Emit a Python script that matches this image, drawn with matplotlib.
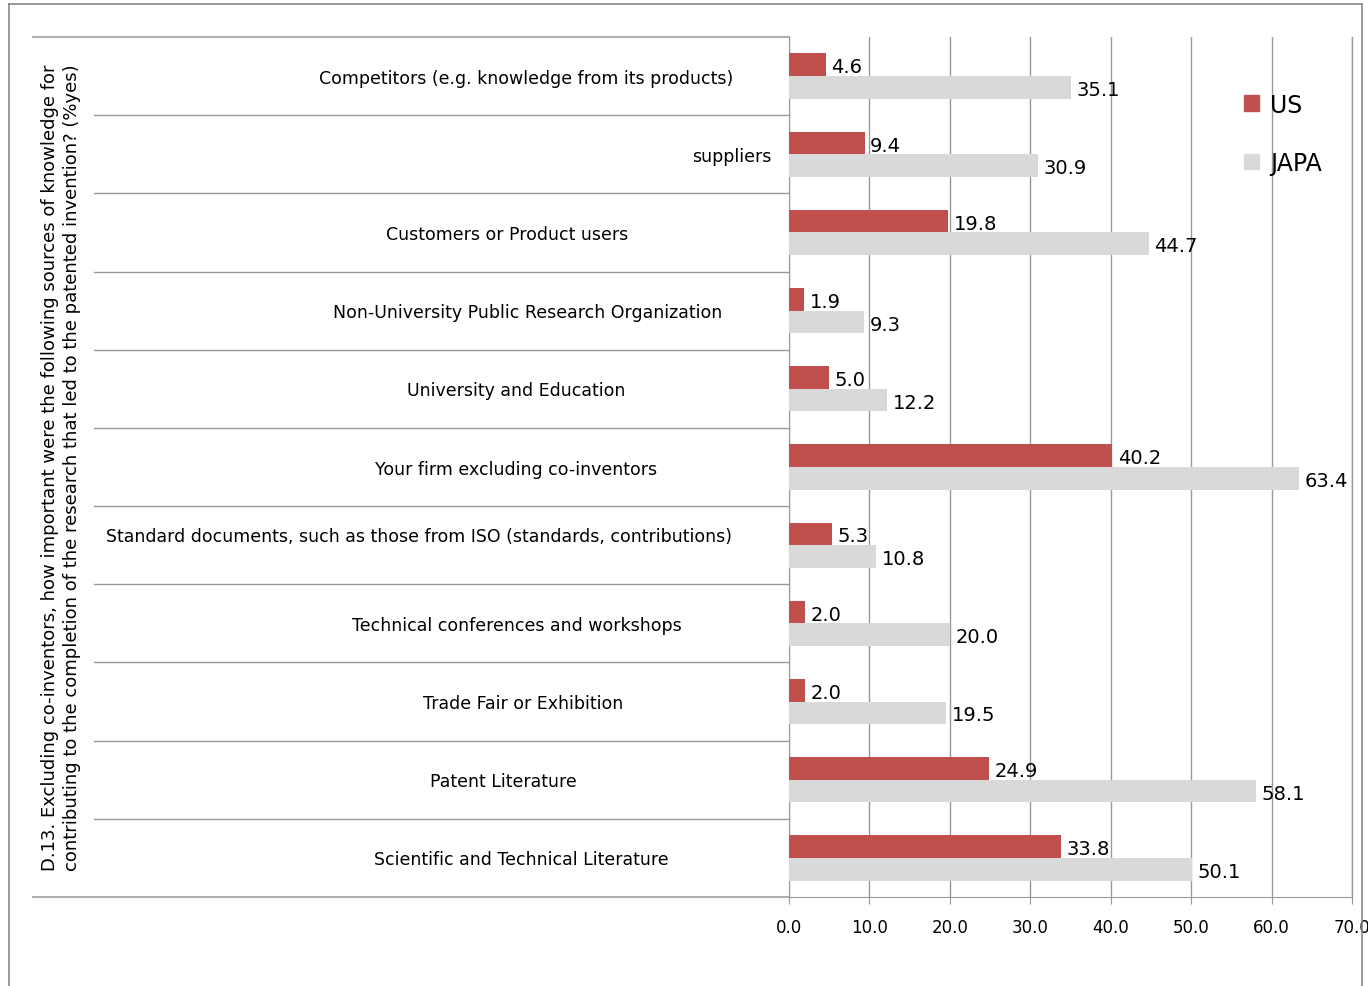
import numpy as np
import matplotlib
matplotlib.use("Agg")
import matplotlib.pyplot as plt
from matplotlib.lines import Line2D
from matplotlib.patches import Patch

# data
categories = ["Competitors (e.g. knowledge from its products)",
              "suppliers",
              "Customers or Product users",
              "Non-University Public Research Organization",
              "University and Education",
              "Your firm excluding co-inventors",
              "Standard documents, such as those from ISO (standards, contributions)",
              "Technical conferences and workshops",
              "Trade Fair or Exhibition",
              "Patent Literature",
              "Scientific and Technical Literature"]
us = [4.6, 9.4, 19.8, 1.9, 5.0, 40.2, 5.3, 2.0, 2.0, 24.9, 33.8]
japan = [35.1, 30.9, 44.7, 9.3, 12.2, 63.4, 10.8, 20.0, 19.5, 58.1, 50.1]
series_names = ["US", "JAPA"]
ylabel = ("D.13. Excluding co-inventors, how important were the following sources of knowledge for\n"
          "contributing to the completion of the research that led to the patented invention? (%yes)")

# layout (pixels of the 1368x987 canvas)
W, H = 1368, 987
x0_px, x1_px = 789, 1352
ytop_px, ybot_px = 38, 898
label_cx = [526, 732, 507, 528, 516, 516, 419, 517, 523, 503, 521]
label_dy = [0, 0, 0, 0, 0, 0, -0.14, 0, 0, 0, 0]

red = "#C0504D"
grey = "#D9D9D9"
line_c = "#999999"

fig = plt.figure(figsize=(W / 100, H / 100), dpi=100)
ax = fig.add_axes([x0_px / W, 1 - ybot_px / H, (x1_px - x0_px) / W, (ybot_px - ytop_px) / H])

n = len(categories)
y = np.arange(n)
h = 0.29
ax.barh(y - 0.145, us, height=h, color=red, zorder=3)
ax.barh(y + 0.145, japan, height=h, color=grey, zorder=3)

for yi, v in zip(y, us):
    ax.annotate("{:.1f}".format(v), (v, yi - 0.145), xytext=(4, -1.5), textcoords="offset points",
                va="center", ha="left", fontsize=14)
for yi, v in zip(y, japan):
    ax.annotate("{:.1f}".format(v), (v, yi + 0.145), xytext=(4, -1.5), textcoords="offset points",
                va="center", ha="left", fontsize=14)

ax.set_xlim(0, 70)
ax.set_ylim(n - 0.5, -0.5)
ax.set_xticks(np.arange(0, 71, 10))
ax.set_xticklabels(["{:.1f}".format(t) for t in np.arange(0, 71, 10)], fontsize=12)
ax.set_yticks([])
ax.grid(axis="x", color=line_c, lw=1, zorder=0)
ax.axvline(70, color=line_c, lw=1, zorder=0, clip_on=False)
ax.tick_params(axis="x", direction="out", length=5, pad=10, color=line_c)
for s in ["top", "right"]:
    ax.spines[s].set_visible(False)
ax.spines["left"].set_color(line_c)
ax.spines["bottom"].set_color(line_c)

# table-like category area on the left
tr = ax.get_yaxis_transform()
xa = lambda px: (px - x0_px) / (x1_px - x0_px)
for i in range(1, n):
    ax.plot([xa(94), 0], [i - 0.5, i - 0.5], color=line_c, lw=1, transform=tr, clip_on=False)
ax.plot([xa(33), 0], [-0.5, -0.5], color="#B0B0B0", lw=1.5, transform=tr, clip_on=False)
ax.plot([xa(33), 0], [n - 0.5, n - 0.5], color="#B0B0B0", lw=1.5, transform=tr, clip_on=False)

for i, (lab, cx, dy) in enumerate(zip(categories, label_cx, label_dy)):
    ax.text(xa(cx), i + dy + 0.02, lab, transform=tr, ha="center", va="center", fontsize=12.5)

fig.text(61 / W, 1 - 468 / H, ylabel, rotation=90, ha="center", va="center",
         multialignment="left", fontsize=13, linespacing=1.25)

handles = [Patch(color=red), Patch(color=grey)]
ax.legend(handles, series_names, loc="upper left", bbox_to_anchor=(0.77, 0.96), frameon=False,
          fontsize=17, handlelength=0.65, handleheight=0.65, handletextpad=0.45, labelspacing=1.45)

# outer frame (bottom edge falls outside the image)
for xs, ys in [([9, 1362], [5, 5]), ([9, 9], [5, 987]), ([1362, 1362], [5, 987])]:
    fig.add_artist(Line2D([p / W for p in xs], [1 - p / H for p in ys], color="#888888", lw=1.2))

plt.savefig("out.png", dpi=100)
